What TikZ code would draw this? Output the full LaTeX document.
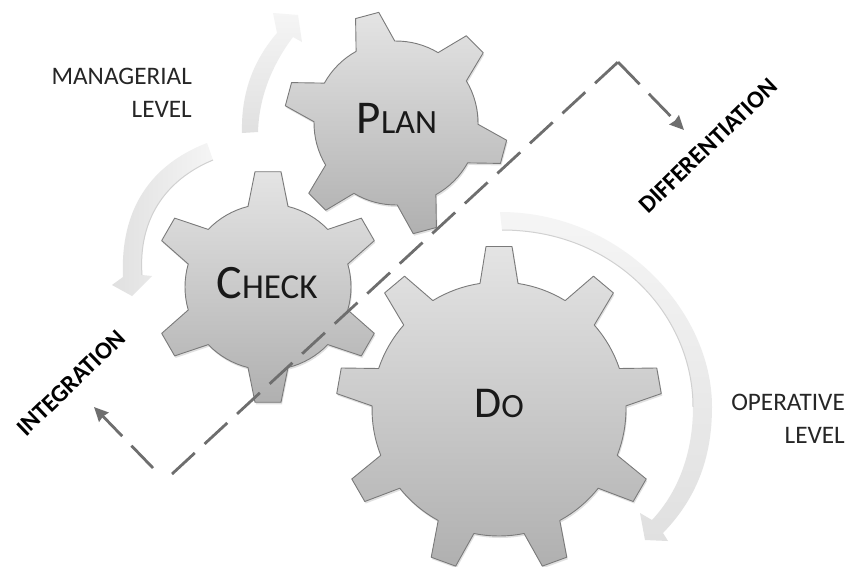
\documentclass[tikz,border=0pt]{standalone}
\usepackage{fontspec}
\setmainfont{Carlito}
\usetikzlibrary{arrows.meta}
\definecolor{dashgray}{HTML}{6E6E6E}
\definecolor{edgegray}{HTML}{7A7A7A}
\definecolor{gearhi}{HTML}{E4E4E4}
\definecolor{gearmid}{HTML}{D0D0D0}
\definecolor{gearlo}{HTML}{B0B0B0}
\definecolor{arrowhi}{HTML}{F5F5F5}
\definecolor{arrowlo}{HTML}{E0E0E0}
\tikzset{
  gearbody/.style={draw=edgegray,line width=0.9pt,line join=round,top color=gearhi,middle color=gearmid,bottom color=gearlo},
  gearshadow/.style={fill=black!22,draw=none,opacity=0.55},
  bigarrow/.style={draw=none,line join=round},
  arrowedge/.style={draw=black!18,line width=1pt},
  flowdash/.style={draw=dashgray,line width=2.8pt,dash pattern=on 31pt off 13.3pt},
  flowtip/.style={flowdash,-{Stealth[length=14pt,width=13pt,inset=1pt]}},
  levellabel/.style={font=\fontsize{25.2}{33.5}\selectfont,text=black!85,align=right,anchor=east,inner sep=0pt},
  sidelabel/.style={font=\bfseries\fontsize{24.5}{24.5}\selectfont,text=black,rotate=44,inner sep=0pt},
  gearlabel/.style={text=black!90,inner sep=0pt,anchor=base}
}
\newcommand\gearoutline[9]{%
  \path[#1] ({#2+#4*cos(#6-asin(#9/#4))},{#3-#4*sin(#6-asin(#9/#4))})
    \foreach \i in {1,...,#7} {
      -- ({#2+#5*cos(#6+(\i-1)*360/#7-asin(#8/#5))},{#3-#5*sin(#6+(\i-1)*360/#7-asin(#8/#5))})
      -- ({#2+#5*cos(#6+(\i-1)*360/#7+asin(#8/#5))},{#3-#5*sin(#6+(\i-1)*360/#7+asin(#8/#5))})
      -- ({#2+#4*cos(#6+(\i-1)*360/#7+asin(#9/#4))},{#3-#4*sin(#6+(\i-1)*360/#7+asin(#9/#4))})
      \foreach \k in {1,...,8} {
        -- ({#2+#4*cos(#6+(\i-1)*360/#7+asin(#9/#4)+\k/8*(360/#7-2*asin(#9/#4)))},{#3-#4*sin(#6+(\i-1)*360/#7+asin(#9/#4)+\k/8*(360/#7-2*asin(#9/#4)))})
      }
    } -- cycle;%
}
\newcommand\sclabel[2]{{\fontsize{#1}{#1}\selectfont #2}}
\begin{document}
\begin{tikzpicture}[x=1pt,y=-1pt]
\useasboundingbox (0,0) rectangle (851,566);
\fill[white] (0,0) rectangle (851,566);

% curved block arrows
\shade[bigarrow,bottom color=arrowlo,top color=arrowhi]
  (242,133) .. controls (241,95) and (252,62) .. (277,33)
  -- (273,13) -- (298,15) -- (302,42) -- (293,37)
  .. controls (272,65) and (259,97) .. (258,132) -- cycle;
\shade[bigarrow,left color=arrowlo,right color=arrowhi]
  (207,143) .. controls (150,165) and (120,210) .. (123,277)
  -- (112,285) -- (132,296) -- (152,276) -- (142,275)
  .. controls (138,220) and (165,180) .. (213,160) -- cycle;
\draw[arrowedge] (142,275) .. controls (138,220) and (165,180) .. (213,160);
\shade[bigarrow,top color=arrowhi,bottom color=arrowlo]
  (500,212) .. controls (620,212) and (712,310) .. (712,407)
  .. controls (712,460) and (695,500) .. (663,533)
  -- (668,541) -- (645,540) -- (640,513) -- (652,520)
  .. controls (680,490) and (693,450) .. (693,407)
  .. controls (693,315) and (615,230) .. (502,230) -- cycle;
\draw[arrowedge] (693,407) .. controls (693,315) and (615,230) .. (502,230);

% gears
\gearoutline{gearshadow,shift={(1pt,-2pt)}}{396}{123}{82}{112}{45}{6}{12}{20}
\gearoutline{gearshadow,shift={(1pt,-2pt)}}{268}{287}{83}{116}{90}{6}{13}{20}
\gearoutline{gearshadow,shift={(1pt,-2pt)}}{499}{409}{127}{163}{90}{9}{13}{19}
\gearoutline{shade,gearbody}{396}{123}{82}{112}{45}{6}{12}{20}
\gearoutline{shade,gearbody}{268}{287}{83}{116}{90}{6}{13}{20}
\gearoutline{shade,gearbody}{499}{409}{127}{163}{90}{9}{13}{19}

% dashed boundary with its two arrows
\coordinate (intstart) at (153,468);
\coordinate (intend) at (94,407);
\coordinate (cornerA) at (172,474);
\coordinate (cornerB) at (618,62);
\coordinate (diffend) at (684,130);
\draw[flowdash] (cornerA) -- (cornerB);
\draw[flowtip] (cornerB) -- (diffend);
\draw[flowtip] (intstart) -- (intend);

% gear labels
\node[gearlabel] (plan) at (397,133) {\sclabel{47}{P}\sclabel{34}{LAN}};
\node[gearlabel] (check) at (267,298) {\sclabel{48}{C}\sclabel{35}{HECK}};
\node[gearlabel] (do) at (499,417) {\sclabel{44}{D}\sclabel{34}{O}};

% side labels
\node[levellabel] (managerial) at (192,93) {MANAGERIAL\\LEVEL};
\node[levellabel] (operative) at (845,419) {OPERATIVE\\LEVEL};
\node[sidelabel] (differentiation) at (708,146) {DIFFERENTIATION};
\node[sidelabel] (integration) at (71,383) {INTEGRATION};
\end{tikzpicture}
\end{document}
